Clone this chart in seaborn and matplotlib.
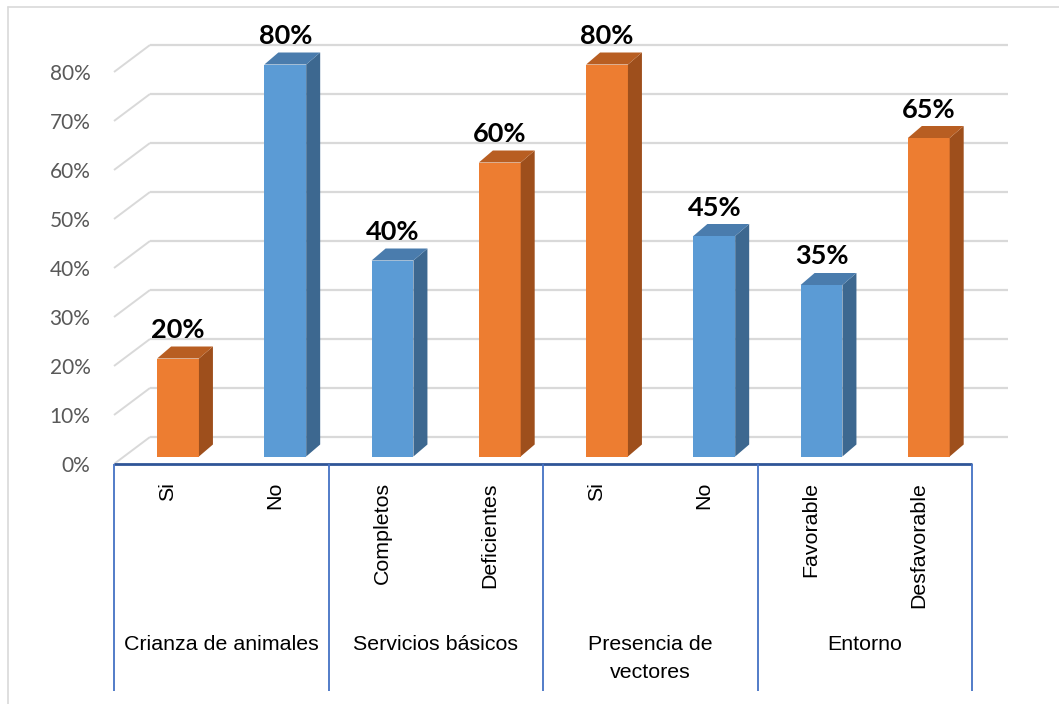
import numpy as np
import pandas as pd
import seaborn as sns
import matplotlib
matplotlib.use("Agg")
import matplotlib.pyplot as plt
from matplotlib.transforms import ScaledTranslation
from matplotlib.patches import Polygon
from matplotlib.lines import Line2D

# ---- data -------------------------------------------------------------
grupos = ["Crianza de animales", "Servicios básicos", "Presencia de\nvectores", "Entorno"]
opciones = ["Si", "No", "Completos", "Deficientes", "Si", "No", "Favorable", "Desfavorable"]
porcentajes = [20, 80, 40, 60, 80, 45, 35, 65]
condicion = ["riesgo", "protector", "protector", "riesgo",
             "riesgo", "protector", "protector", "riesgo"]
y_ticks = [0, 10, 20, 30, 40, 50, 60, 70, 80]

# colours: front face, side face, top face
colores = {
    "riesgo": ("#ED7D31", "#9E4F1C", "#B85E22"),
    "protector": ("#5B9BD5", "#3D6890", "#4A7CAD"),
}

df = pd.DataFrame({
    "clave": [f"{i}" for i in range(len(opciones))],
    "pct": porcentajes,
    "condicion": condicion,
})

# ---- figure -----------------------------------------------------------
DPI = 100
W, H = 1059, 704
sns.set_style("white")
plt.rcParams["font.family"] = ["Liberation Sans", "DejaVu Sans"]

fig = plt.figure(figsize=(W / DPI, H / DPI), dpi=DPI)
ax_left, ax_right, ax_bottom, ax_top = 114, 972, 464, 23  # pixel box of the front plane
ax = fig.add_axes([ax_left / W, (H - ax_bottom) / H,
                   (ax_right - ax_left) / W, (ax_bottom - ax_top) / H])

n = len(opciones)
YMAX = 90
xs = (ax_right - ax_left) / n          # pixels per category
ys = (ax_bottom - ax_top) / YMAX       # pixels per percent


def shifted(dx, dy):
    """Data transform moved by (dx, dy) pixels — used for the oblique depth."""
    return ax.transData + ScaledTranslation(dx / DPI, dy / DPI, fig.dpi_scale_trans)


BACK = (36, 27)        # offset of the back wall
BAR_FRONT = (10.4, 7.5)  # offset of the bar front faces
BAR_DEPTH = (14, 12)   # thickness of the bars

sns.barplot(data=df, x="clave", y="pct", hue="condicion",
            palette={k: v[0] for k, v in colores.items()},
            dodge=False, width=0.39, saturation=1, legend=False, ax=ax, zorder=3)

ax.set_xlim(-0.5, n - 0.5)
ax.set_ylim(0, YMAX)

# back-wall grid: diagonal from the front edge and horizontal line on the wall
grid_c = "#D9D9D9"
for y in y_ticks:
    ax.plot([-0.5, -0.5 + BACK[0] / xs], [y, y + BACK[1] / ys],
            color=grid_c, lw=1.4, zorder=1, clip_on=False, solid_capstyle="butt")
    ax.plot([-0.5, n - 0.5], [y, y], color=grid_c, lw=1.6, zorder=1,
            clip_on=False, transform=shifted(*BACK), solid_capstyle="butt")

# bars: move front faces into depth and add side / top faces
bar_t = shifted(*BAR_FRONT)
ddx, ddy = BAR_DEPTH[0] / xs, BAR_DEPTH[1] / ys
for p in ax.patches[:]:
    h = p.get_height()
    if not np.isfinite(h) or h <= 0:
        continue
    x0 = p.get_x()
    x1 = x0 + p.get_width()
    idx = int(round(x0 + p.get_width() / 2))
    front, side, top = colores[condicion[idx]]
    p.set_transform(bar_t)
    p.set_edgecolor("none")
    ax.add_patch(Polygon([(x1, 0), (x1 + ddx, ddy), (x1 + ddx, h + ddy), (x1, h)],
                         closed=True, facecolor=side, edgecolor="none",
                         transform=bar_t, zorder=3, clip_on=False))
    ax.add_patch(Polygon([(x0, h), (x1, h), (x1 + ddx, h + ddy), (x0 + ddx, h + ddy)],
                         closed=True, facecolor=top, edgecolor="none",
                         transform=bar_t, zorder=3, clip_on=False))

# value labels
for i, v in enumerate(porcentajes):
    ax.text(i, v, f"{v}%", transform=shifted(BAR_FRONT[0], BAR_FRONT[1] + 20.5),
            ha="center", va="baseline", fontsize=19.5, fontweight="bold",
            family=["Lato", "DejaVu Sans"], color="black", zorder=5, clip_on=False)

# axes text
ax.set_xlabel("")
ax.set_ylabel("")
ax.set_xticks(range(n))
ax.set_xticklabels(opciones, rotation=90, fontsize=15.4, color="black")
ax.tick_params(axis="x", length=0, pad=13)
ax.set_yticks(y_ticks)
ax.set_yticklabels([f"{v}%" for v in y_ticks], fontsize=15, color="#595959",
                   family=["Lato", "DejaVu Sans"])
ax.tick_params(axis="y", length=0, pad=17)
for s in ax.spines.values():
    s.set_visible(False)
ax.grid(False)
ax.set_facecolor("none")

# floor line
ax.plot([-0.5, n - 0.5], [0, 0], color="#2F5597", lw=2.0, zorder=6, clip_on=False,
        solid_capstyle="butt")

# category table below the floor
table_bottom = -(691 - ax_bottom) / ys
ax.vlines([-0.5, 1.5, 3.5, 5.5, 7.5], table_bottom, 0, colors="#4472C4", lw=1.3,
          clip_on=False, zorder=6)
group_y = -(635 - ax_bottom) / ys
for g, name in enumerate(grupos):
    ax.text(2 * g + 0.5, group_y, name, ha="center", va="top", fontsize=15.4,
            color="black", clip_on=False, linespacing=1.6)

# outer chart frame
fig.add_artist(Line2D([8 / W, 1.0], [1 - 7 / H, 1 - 7 / H], color="#D9D9D9", lw=1.2))
fig.add_artist(Line2D([8 / W, 8 / W], [0.0, 1 - 7 / H], color="#D9D9D9", lw=1.2))

fig.savefig("out.png", dpi=DPI)
